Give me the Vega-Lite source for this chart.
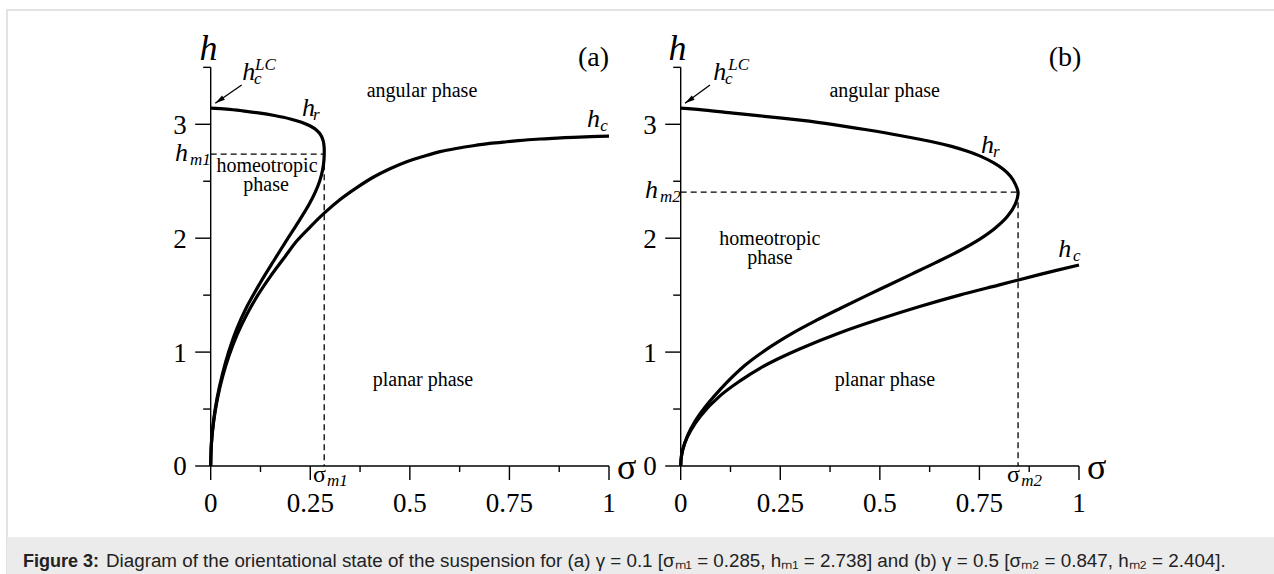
{
"$schema":"https://vega.github.io/schema/vega-lite/v6.json",
"width":1270,"height":566,"autosize":"none",
"padding":{"left":7,"top":10,"right":0,"bottom":0},
"background":"white",
"config":{"view":{"stroke":"#e2e2e2","strokeWidth":2}},
"datasets":{
"curves":[
{"p":"a","c":"hr","i":0,"s":0,"h":3.1416},{"p":"a","c":"hr","i":1,"s":0.04,"h":3.133},{"p":"a","c":"hr","i":2,"s":0.08,"h":3.118},{"p":"a","c":"hr","i":3,"s":0.12,"h":3.1},{"p":"a","c":"hr","i":4,"s":0.16,"h":3.077},{"p":"a","c":"hr","i":5,"s":0.2,"h":3.047},{"p":"a","c":"hr","i":6,"s":0.228,"h":3.018},{"p":"a","c":"hr","i":7,"s":0.25,"h":2.985},{"p":"a","c":"hr","i":8,"s":0.266,"h":2.948},{"p":"a","c":"hr","i":9,"s":0.2765,"h":2.905},{"p":"a","c":"hr","i":10,"s":0.2825,"h":2.855},{"p":"a","c":"hr","i":11,"s":0.2848,"h":2.8},{"p":"a","c":"hr","i":12,"s":0.285,"h":2.738},{"p":"a","c":"hr","i":13,"s":0.2842,"h":2.68},{"p":"a","c":"hr","i":14,"s":0.281,"h":2.6},{"p":"a","c":"hr","i":15,"s":0.2735,"h":2.5},{"p":"a","c":"hr","i":16,"s":0.262,"h":2.4},{"p":"a","c":"hr","i":17,"s":0.2475,"h":2.3},{"p":"a","c":"hr","i":18,"s":0.2305,"h":2.2},{"p":"a","c":"hr","i":19,"s":0.2125,"h":2.1},{"p":"a","c":"hr","i":20,"s":0.194,"h":2.0},{"p":"a","c":"hr","i":21,"s":0.158,"h":1.8},{"p":"a","c":"hr","i":22,"s":0.123,"h":1.6},{"p":"a","c":"hr","i":23,"s":0.091,"h":1.4},{"p":"a","c":"hr","i":24,"s":0.065,"h":1.2},{"p":"a","c":"hr","i":25,"s":0.045,"h":1.0},{"p":"a","c":"hr","i":26,"s":0.029,"h":0.8},{"p":"a","c":"hr","i":27,"s":0.0163,"h":0.6},{"p":"a","c":"hr","i":28,"s":0.0073,"h":0.4},{"p":"a","c":"hr","i":29,"s":0.00183,"h":0.2},{"p":"a","c":"hr","i":30,"s":0,"h":0},
{"p":"a","c":"hc","i":0,"s":0,"h":0},{"p":"a","c":"hc","i":1,"s":0.00185,"h":0.196},{"p":"a","c":"hc","i":2,"s":0.0074,"h":0.39},{"p":"a","c":"hc","i":3,"s":0.0166,"h":0.585},{"p":"a","c":"hc","i":4,"s":0.0296,"h":0.78},{"p":"a","c":"hc","i":5,"s":0.0462,"h":0.97},{"p":"a","c":"hc","i":6,"s":0.0666,"h":1.155},{"p":"a","c":"hc","i":7,"s":0.0906,"h":1.33},{"p":"a","c":"hc","i":8,"s":0.1183,"h":1.5},{"p":"a","c":"hc","i":9,"s":0.15,"h":1.665},{"p":"a","c":"hc","i":10,"s":0.185,"h":1.83},{"p":"a","c":"hc","i":11,"s":0.216,"h":1.975},{"p":"a","c":"hc","i":12,"s":0.25,"h":2.1},{"p":"a","c":"hc","i":13,"s":0.285,"h":2.22},{"p":"a","c":"hc","i":14,"s":0.325,"h":2.34},{"p":"a","c":"hc","i":15,"s":0.365,"h":2.44},{"p":"a","c":"hc","i":16,"s":0.408,"h":2.535},{"p":"a","c":"hc","i":17,"s":0.45,"h":2.61},{"p":"a","c":"hc","i":18,"s":0.492,"h":2.672},{"p":"a","c":"hc","i":19,"s":0.535,"h":2.72},{"p":"a","c":"hc","i":20,"s":0.576,"h":2.76},{"p":"a","c":"hc","i":21,"s":0.62,"h":2.79},{"p":"a","c":"hc","i":22,"s":0.659,"h":2.812},{"p":"a","c":"hc","i":23,"s":0.7,"h":2.832},{"p":"a","c":"hc","i":24,"s":0.743,"h":2.847},{"p":"a","c":"hc","i":25,"s":0.785,"h":2.86},{"p":"a","c":"hc","i":26,"s":0.827,"h":2.871},{"p":"a","c":"hc","i":27,"s":0.87,"h":2.879},{"p":"a","c":"hc","i":28,"s":0.91,"h":2.886},{"p":"a","c":"hc","i":29,"s":0.955,"h":2.892},{"p":"a","c":"hc","i":30,"s":1.0,"h":2.897},
{"p":"b","c":"hr","i":0,"s":0,"h":3.1416},{"p":"b","c":"hr","i":1,"s":0.06,"h":3.125},{"p":"b","c":"hr","i":2,"s":0.132,"h":3.098},{"p":"b","c":"hr","i":3,"s":0.2,"h":3.074},{"p":"b","c":"hr","i":4,"s":0.3,"h":3.036},{"p":"b","c":"hr","i":5,"s":0.38,"h":3.0},{"p":"b","c":"hr","i":6,"s":0.467,"h":2.952},{"p":"b","c":"hr","i":7,"s":0.55,"h":2.902},{"p":"b","c":"hr","i":8,"s":0.634,"h":2.845},{"p":"b","c":"hr","i":9,"s":0.68,"h":2.806},{"p":"b","c":"hr","i":10,"s":0.718,"h":2.765},{"p":"b","c":"hr","i":11,"s":0.755,"h":2.716},{"p":"b","c":"hr","i":12,"s":0.785,"h":2.663},{"p":"b","c":"hr","i":13,"s":0.81,"h":2.605},{"p":"b","c":"hr","i":14,"s":0.828,"h":2.543},{"p":"b","c":"hr","i":15,"s":0.84,"h":2.475},{"p":"b","c":"hr","i":16,"s":0.847,"h":2.404},{"p":"b","c":"hr","i":17,"s":0.84,"h":2.3},{"p":"b","c":"hr","i":18,"s":0.82,"h":2.19},{"p":"b","c":"hr","i":19,"s":0.79,"h":2.09},{"p":"b","c":"hr","i":20,"s":0.75,"h":1.99},{"p":"b","c":"hr","i":21,"s":0.7,"h":1.89},{"p":"b","c":"hr","i":22,"s":0.64,"h":1.785},{"p":"b","c":"hr","i":23,"s":0.58,"h":1.685},{"p":"b","c":"hr","i":24,"s":0.52,"h":1.585},{"p":"b","c":"hr","i":25,"s":0.46,"h":1.485},{"p":"b","c":"hr","i":26,"s":0.4,"h":1.383},{"p":"b","c":"hr","i":27,"s":0.34,"h":1.278},{"p":"b","c":"hr","i":28,"s":0.28,"h":1.165},{"p":"b","c":"hr","i":29,"s":0.22,"h":1.035},{"p":"b","c":"hr","i":30,"s":0.16,"h":0.88},{"p":"b","c":"hr","i":31,"s":0.1,"h":0.675},{"p":"b","c":"hr","i":32,"s":0.05,"h":0.465},{"p":"b","c":"hr","i":33,"s":0.025,"h":0.325},{"p":"b","c":"hr","i":34,"s":0.01,"h":0.2},{"p":"b","c":"hr","i":35,"s":0.002,"h":0.09},{"p":"b","c":"hr","i":36,"s":0,"h":0},
{"p":"b","c":"hc","i":0,"s":0,"h":0},{"p":"b","c":"hc","i":1,"s":0.002,"h":0.09},{"p":"b","c":"hc","i":2,"s":0.01,"h":0.2},{"p":"b","c":"hc","i":3,"s":0.025,"h":0.31},{"p":"b","c":"hc","i":4,"s":0.05,"h":0.44},{"p":"b","c":"hc","i":5,"s":0.1,"h":0.62},{"p":"b","c":"hc","i":6,"s":0.15,"h":0.75},{"p":"b","c":"hc","i":7,"s":0.2,"h":0.86},{"p":"b","c":"hc","i":8,"s":0.25,"h":0.95},{"p":"b","c":"hc","i":9,"s":0.3,"h":1.03},{"p":"b","c":"hc","i":10,"s":0.4,"h":1.17},{"p":"b","c":"hc","i":11,"s":0.5,"h":1.29},{"p":"b","c":"hc","i":12,"s":0.6,"h":1.4},{"p":"b","c":"hc","i":13,"s":0.7,"h":1.5},{"p":"b","c":"hc","i":14,"s":0.8,"h":1.59},{"p":"b","c":"hc","i":15,"s":0.9,"h":1.68},{"p":"b","c":"hc","i":16,"s":1.0,"h":1.765}
],
"tk":[
{"o":"v","m":1,"s":0,"h":0,"t":"0"},{"o":"v","m":1,"s":0.25,"h":0,"t":"0.25"},{"o":"v","m":1,"s":0.5,"h":0,"t":"0.5"},{"o":"v","m":1,"s":0.75,"h":0,"t":"0.75"},{"o":"v","m":1,"s":1,"h":0,"t":"1"},
{"o":"v","m":0,"s":0.125,"h":0},{"o":"v","m":0,"s":0.375,"h":0},{"o":"v","m":0,"s":0.625,"h":0},{"o":"v","m":0,"s":0.875,"h":0},
{"o":"h","m":1,"s":0,"h":0,"t":"0"},{"o":"h","m":1,"s":0,"h":1,"t":"1"},{"o":"h","m":1,"s":0,"h":2,"t":"2"},{"o":"h","m":1,"s":0,"h":3,"t":"3"},
{"o":"h","m":0,"s":0,"h":0.5},{"o":"h","m":0,"s":0,"h":1.5},{"o":"h","m":0,"s":0,"h":2.5},{"o":"h","m":0,"s":0,"h":3.5}
],
"lab":[
{"p":"a","k":"ht","s":-0.0055,"h":3.5645,"t":"h"},
{"p":"a","k":"st","s":1.0445,"h":-0.114,"t":"σ"},
{"p":"a","k":"tag","s":0.961,"h":3.512,"t":"(a)"},
{"p":"a","k":"ph","s":0.5305,"h":3.236,"t":"angular phase"},
{"p":"a","k":"ph","s":0.1413,"h":2.584,"t":"homeotropic"},
{"p":"a","k":"ph","s":0.139,"h":2.417,"t":"phase"},
{"p":"a","k":"ph","s":0.533,"h":0.7024,"t":"planar phase"},
{"p":"a","k":"hm","s":0.0791,"h":3.389,"t":"h"},
{"p":"a","k":"hm","s":0.229,"h":3.07,"t":"h"},
{"p":"a","k":"hm","s":0.945,"h":2.974,"t":"h"},
{"p":"a","k":"hm","s":-0.0896,"h":2.678,"t":"h"},
{"p":"a","k":"sub","s":0.109,"h":3.358,"t":"c"},
{"p":"a","k":"sub","s":0.1112,"h":3.477,"t":"LC"},
{"p":"a","k":"sub","s":0.257,"h":3.04,"t":"r"},
{"p":"a","k":"sub","s":0.978,"h":2.941,"t":"c"},
{"p":"a","k":"sub","s":-0.052,"h":2.647,"t":"m1"},
{"p":"a","k":"sub","s":0.292,"h":-0.176,"t":"m1"},
{"p":"a","k":"sm","s":0.257,"h":-0.14,"t":"σ"},
{"p":"b","k":"ht","s":-0.008,"h":3.5645,"t":"h"},
{"p":"b","k":"st","s":1.0445,"h":-0.114,"t":"σ"},
{"p":"b","k":"tag","s":0.965,"h":3.512,"t":"(b)"},
{"p":"b","k":"ph","s":0.5122,"h":3.236,"t":"angular phase"},
{"p":"b","k":"ph","s":0.224,"h":1.94,"t":"homeotropic"},
{"p":"b","k":"ph","s":0.224,"h":1.773,"t":"phase"},
{"p":"b","k":"ph","s":0.5127,"h":0.7024,"t":"planar phase"},
{"p":"b","k":"hm","s":0.0819,"h":3.389,"t":"h"},
{"p":"b","k":"hm","s":0.754,"h":2.745,"t":"h"},
{"p":"b","k":"hm","s":0.948,"h":1.832,"t":"h"},
{"p":"b","k":"hm","s":-0.0896,"h":2.35,"t":"h"},
{"p":"b","k":"sub","s":0.1112,"h":3.358,"t":"c"},
{"p":"b","k":"sub","s":0.1195,"h":3.477,"t":"LC"},
{"p":"b","k":"sub","s":0.784,"h":2.713,"t":"r"},
{"p":"b","k":"sub","s":0.985,"h":1.8,"t":"c"},
{"p":"b","k":"sub","s":-0.052,"h":2.318,"t":"m2"},
{"p":"b","k":"sub","s":0.8547,"h":-0.176,"t":"m2"},
{"p":"b","k":"sm","s":0.8195,"h":-0.14,"t":"σ"}
]
},
"layer":[
{
"layer":[
{"data":{"values":[{}]},"mark":{"type":"rect","color":"#ebebeb"},
"encoding":{
"x":{"datum":-0.5114,"type":"quantitative","scale":{"domain":[-0.5114,2.6771],"nice":false,"zero":false},"axis":null},
"x2":{"datum":2.6771},
"y":{"datum":-0.6234,"type":"quantitative","scale":{"domain":[-0.9658,4.0035],"nice":false,"zero":false},"axis":null},
"y2":{"datum":-0.9658}}},
{"data":{"values":[{"t":"Figure 3:"}]},"mark":{"type":"text","font":"Liberation Sans","fontSize":18,"fontWeight":"bold","align":"left","baseline":"alphabetic","color":"#222222"},
"encoding":{
"x":{"datum":-0.4713,"type":"quantitative","scale":{"domain":[-0.5114,2.6771],"nice":false,"zero":false},"axis":null},
"y":{"datum":-0.8868,"type":"quantitative","scale":{"domain":[-0.9658,4.0035],"nice":false,"zero":false},"axis":null},
"text":{"field":"t"}}},
{"data":{"values":[{"t":"Diagram of the orientational state of the suspension for (a) γ = 0.1 [σₘ₁ = 0.285, hₘ₁ = 2.738] and (b) γ = 0.5 [σₘ₂ = 0.847, hₘ₂ = 2.404]."}]},"mark":{"type":"text","font":"Liberation Sans","fontSize":18.8,"align":"left","baseline":"alphabetic","color":"#222222"},
"encoding":{
"x":{"datum":-0.2628,"type":"quantitative","scale":{"domain":[-0.5114,2.6771],"nice":false,"zero":false},"axis":null},
"y":{"datum":-0.8868,"type":"quantitative","scale":{"domain":[-0.9658,4.0035],"nice":false,"zero":false},"axis":null},
"text":{"field":"t"}}},
{
"encoding":{
"x":{"field":"s","type":"quantitative","scale":{"domain":[-0.5114,2.6771],"nice":false,"zero":false},"axis":null},
"y":{"field":"h","type":"quantitative","scale":{"domain":[-0.9658,4.0035],"nice":false,"zero":false},"axis":null}
},
"layer":[
{"data":{"values":[{"s":0,"h":0,"s2":1,"h2":0},{"s":0,"h":0,"s2":0,"h2":3.5}]},"mark":{"type":"rule","color":"black","strokeWidth":1.4},
"encoding":{"x2":{"field":"s2"},"y2":{"field":"h2"}}},
{"data":{"name":"tk"},"transform":[{"filter":"datum.o=='v' && datum.m==1"}],"mark":{"type":"tick","orient":"vertical","color":"black","opacity":1,"thickness":1.4,"yOffset":7},"encoding":{"size":{"value":14}}},
{"data":{"name":"tk"},"transform":[{"filter":"datum.o=='v' && datum.m==0"}],"mark":{"type":"tick","orient":"vertical","color":"black","opacity":1,"thickness":1.4,"yOffset":3},"encoding":{"size":{"value":6}}},
{"data":{"name":"tk"},"transform":[{"filter":"datum.o=='h' && datum.m==1"}],"mark":{"type":"tick","orient":"horizontal","color":"black","opacity":1,"thickness":1.4,"xOffset":-7.75},"encoding":{"size":{"value":15.5}}},
{"data":{"name":"tk"},"transform":[{"filter":"datum.o=='h' && datum.m==0"}],"mark":{"type":"tick","orient":"horizontal","color":"black","opacity":1,"thickness":1.4,"xOffset":-3.75},"encoding":{"size":{"value":7.5}}},
{"data":{"name":"tk"},"transform":[{"filter":"datum.o=='v' && datum.m==1"}],"mark":{"type":"text","font":"Liberation Serif","fontSize":27,"align":"center","baseline":"alphabetic","dy":46,"color":"black"},"encoding":{"text":{"field":"t"}}},
{"data":{"name":"tk"},"transform":[{"filter":"datum.o=='h' && datum.m==1"}],"mark":{"type":"text","font":"Liberation Serif","fontSize":27,"align":"right","baseline":"alphabetic","dx":-24,"dy":9.5,"color":"black"},"encoding":{"text":{"field":"t"}}},
{"data":{"values":[{"s":0,"h":2.738,"s2":0.285,"h2":2.738},{"s":0.285,"h":2.738,"s2":0.285,"h2":0}]},"mark":{"type":"rule","color":"black","strokeWidth":1.3,"strokeDash":[6,4]},
"encoding":{"x2":{"field":"s2"},"y2":{"field":"h2"}}},
{"data":{"name":"curves"},"transform":[{"filter":"datum.p=='a'"}],"mark":{"type":"line","color":"black","strokeWidth":3.2,"interpolate":"catmull-rom"},
"encoding":{"detail":{"field":"c"},"order":{"field":"i","type":"quantitative"}}},
{"data":{"values":[{"s":0.0778,"h":3.345,"s2":0.0115,"h2":3.184}]},"mark":{"type":"rule","color":"black","strokeWidth":1.3},
"encoding":{"x2":{"field":"s2"},"y2":{"field":"h2"}}},
{"data":{"values":[{"s":0.0115,"h":3.184}]},"mark":{"type":"point","shape":"M0,0L0.5,2L-0.5,2Z","filled":true,"color":"black","opacity":1,"size":100,"angle":235}},
{"data":{"name":"lab"},"transform":[{"filter":"datum.p=='a' && datum.k=='ph'"}],"mark":{"type":"text","font":"Liberation Serif","fontSize":20,"align":"center","baseline":"alphabetic","color":"black"},"encoding":{"text":{"field":"t"}}},
{"data":{"name":"lab"},"transform":[{"filter":"datum.p=='a' && datum.k=='tag'"}],"mark":{"type":"text","font":"Liberation Serif","fontSize":28,"align":"center","baseline":"alphabetic","color":"black"},"encoding":{"text":{"field":"t"}}},
{"data":{"name":"lab"},"transform":[{"filter":"datum.p=='a' && datum.k=='ht'"}],"mark":{"type":"text","font":"Liberation Serif","fontSize":36,"fontStyle":"italic","align":"center","baseline":"alphabetic","color":"black"},"encoding":{"text":{"field":"t"}}},
{"data":{"name":"lab"},"transform":[{"filter":"datum.p=='a' && datum.k=='st'"}],"mark":{"type":"text","font":"Liberation Serif","fontSize":36,"align":"center","baseline":"alphabetic","color":"black"},"encoding":{"text":{"field":"t"}}},
{"data":{"name":"lab"},"transform":[{"filter":"datum.p=='a' && datum.k=='hm'"}],"mark":{"type":"text","font":"Liberation Serif","fontSize":26,"fontStyle":"italic","align":"left","baseline":"alphabetic","color":"black"},"encoding":{"text":{"field":"t"}}},
{"data":{"name":"lab"},"transform":[{"filter":"datum.p=='a' && datum.k=='sub'"}],"mark":{"type":"text","font":"Liberation Serif","fontSize":17,"fontStyle":"italic","align":"left","baseline":"alphabetic","color":"black"},"encoding":{"text":{"field":"t"}}},
{"data":{"name":"lab"},"transform":[{"filter":"datum.p=='a' && datum.k=='sm'"}],"mark":{"type":"text","font":"Liberation Serif","fontSize":24,"align":"left","baseline":"alphabetic","color":"black"},"encoding":{"text":{"field":"t"}}}
]
}
]
},
{
"encoding":{
"x":{"field":"s","type":"quantitative","scale":{"domain":[-1.6914,1.4971],"nice":false,"zero":false},"axis":null},
"y":{"field":"h","type":"quantitative","scale":{"domain":[-0.9658,4.0035],"nice":false,"zero":false},"axis":null}
},
"layer":[
{"data":{"values":[{"s":0,"h":0,"s2":1,"h2":0},{"s":0,"h":0,"s2":0,"h2":3.5}]},"mark":{"type":"rule","color":"black","strokeWidth":1.4},
"encoding":{"x2":{"field":"s2"},"y2":{"field":"h2"}}},
{"data":{"name":"tk"},"transform":[{"filter":"datum.o=='v' && datum.m==1"}],"mark":{"type":"tick","orient":"vertical","color":"black","opacity":1,"thickness":1.4,"yOffset":7},"encoding":{"size":{"value":14}}},
{"data":{"name":"tk"},"transform":[{"filter":"datum.o=='v' && datum.m==0"}],"mark":{"type":"tick","orient":"vertical","color":"black","opacity":1,"thickness":1.4,"yOffset":3},"encoding":{"size":{"value":6}}},
{"data":{"name":"tk"},"transform":[{"filter":"datum.o=='h' && datum.m==1"}],"mark":{"type":"tick","orient":"horizontal","color":"black","opacity":1,"thickness":1.4,"xOffset":-7.75},"encoding":{"size":{"value":15.5}}},
{"data":{"name":"tk"},"transform":[{"filter":"datum.o=='h' && datum.m==0"}],"mark":{"type":"tick","orient":"horizontal","color":"black","opacity":1,"thickness":1.4,"xOffset":-3.75},"encoding":{"size":{"value":7.5}}},
{"data":{"name":"tk"},"transform":[{"filter":"datum.o=='v' && datum.m==1"}],"mark":{"type":"text","font":"Liberation Serif","fontSize":27,"align":"center","baseline":"alphabetic","dy":46,"color":"black"},"encoding":{"text":{"field":"t"}}},
{"data":{"name":"tk"},"transform":[{"filter":"datum.o=='h' && datum.m==1"}],"mark":{"type":"text","font":"Liberation Serif","fontSize":27,"align":"right","baseline":"alphabetic","dx":-24,"dy":9.5,"color":"black"},"encoding":{"text":{"field":"t"}}},
{"data":{"values":[{"s":0,"h":2.404,"s2":0.847,"h2":2.404},{"s":0.847,"h":2.404,"s2":0.847,"h2":0}]},"mark":{"type":"rule","color":"black","strokeWidth":1.3,"strokeDash":[6,4]},
"encoding":{"x2":{"field":"s2"},"y2":{"field":"h2"}}},
{"data":{"name":"curves"},"transform":[{"filter":"datum.p=='b'"}],"mark":{"type":"line","color":"black","strokeWidth":3.2,"interpolate":"catmull-rom"},
"encoding":{"detail":{"field":"c"},"order":{"field":"i","type":"quantitative"}}},
{"data":{"values":[{"s":0.0736,"h":3.345,"s2":0.0108,"h2":3.184}]},"mark":{"type":"rule","color":"black","strokeWidth":1.3},
"encoding":{"x2":{"field":"s2"},"y2":{"field":"h2"}}},
{"data":{"values":[{"s":0.0108,"h":3.184}]},"mark":{"type":"point","shape":"M0,0L0.5,2L-0.5,2Z","filled":true,"color":"black","opacity":1,"size":100,"angle":235}},
{"data":{"name":"lab"},"transform":[{"filter":"datum.p=='b' && datum.k=='ph'"}],"mark":{"type":"text","font":"Liberation Serif","fontSize":20,"align":"center","baseline":"alphabetic","color":"black"},"encoding":{"text":{"field":"t"}}},
{"data":{"name":"lab"},"transform":[{"filter":"datum.p=='b' && datum.k=='tag'"}],"mark":{"type":"text","font":"Liberation Serif","fontSize":28,"align":"center","baseline":"alphabetic","color":"black"},"encoding":{"text":{"field":"t"}}},
{"data":{"name":"lab"},"transform":[{"filter":"datum.p=='b' && datum.k=='ht'"}],"mark":{"type":"text","font":"Liberation Serif","fontSize":36,"fontStyle":"italic","align":"center","baseline":"alphabetic","color":"black"},"encoding":{"text":{"field":"t"}}},
{"data":{"name":"lab"},"transform":[{"filter":"datum.p=='b' && datum.k=='st'"}],"mark":{"type":"text","font":"Liberation Serif","fontSize":36,"align":"center","baseline":"alphabetic","color":"black"},"encoding":{"text":{"field":"t"}}},
{"data":{"name":"lab"},"transform":[{"filter":"datum.p=='b' && datum.k=='hm'"}],"mark":{"type":"text","font":"Liberation Serif","fontSize":26,"fontStyle":"italic","align":"left","baseline":"alphabetic","color":"black"},"encoding":{"text":{"field":"t"}}},
{"data":{"name":"lab"},"transform":[{"filter":"datum.p=='b' && datum.k=='sub'"}],"mark":{"type":"text","font":"Liberation Serif","fontSize":17,"fontStyle":"italic","align":"left","baseline":"alphabetic","color":"black"},"encoding":{"text":{"field":"t"}}},
{"data":{"name":"lab"},"transform":[{"filter":"datum.p=='b' && datum.k=='sm'"}],"mark":{"type":"text","font":"Liberation Serif","fontSize":24,"align":"left","baseline":"alphabetic","color":"black"},"encoding":{"text":{"field":"t"}}}
]
}
],
"resolve":{"scale":{"x":"independent"}}
}
